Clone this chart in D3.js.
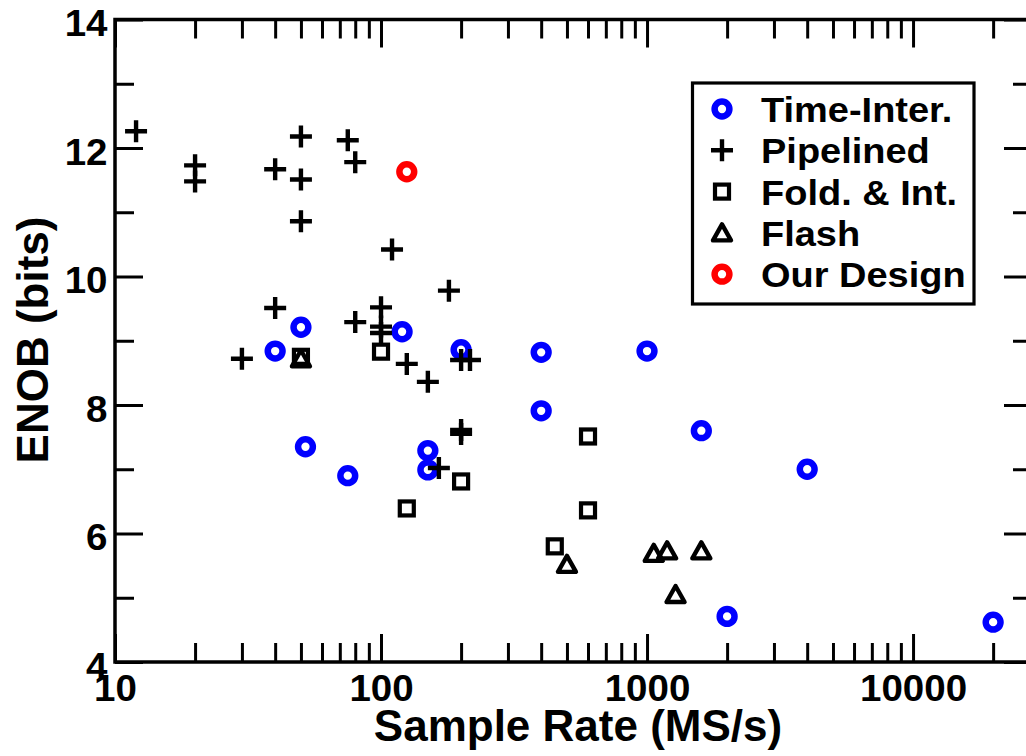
<!DOCTYPE html>
<html lang="en">
<head>
<meta charset="utf-8">
<title>ENOB vs sample rate</title>
<script src="https://d3js.org/d3.v7.min.js"></script>
<style>
  body { margin: 0; background: #fff; }
  svg { display: block; font-family: "Liberation Sans", Arial, Helvetica, sans-serif; font-weight: bold; }
</style>
</head>
<body>
<div id="chart"></div>
<script>
// data: [sample rate (MS/s), ENOB (bits)]
var timeInter = [[40, 8.84], [50, 9.21], [52, 7.35], [75, 6.90], [120, 9.14], [150, 7.29], [150, 6.99],
                 [200, 8.86], [400, 8.82], [400, 7.91], [1000, 8.84], [1600, 7.60], [2000, 4.71],
                 [4000, 7.00], [20000, 4.62]]
var pipelined = [[12, 12.26], [20, 11.73], [20, 11.48], [40, 11.67], [50, 12.18], [50, 11.51], [50, 10.86],
                 [75, 12.12], [80, 11.78], [110, 10.42], [40, 9.51], [80, 9.29], [100, 9.52], [100, 9.22],
                 [100, 9.12], [30, 8.72], [125, 8.64], [150, 8.36], [180, 9.78], [200, 8.70], [216, 8.70],
                 [200, 7.61], [200, 7.55], [165, 7.02]]
var foldInt = [[50, 8.75], [100, 8.83], [200, 6.81], [125, 6.39], [600, 7.51], [600, 6.36], [450, 5.80]]
var flash = [[50, 8.72], [500, 5.52], [1060, 5.69], [1190, 5.73], [1600, 5.73], [1280, 5.05]]
var ourDesign = [[125, 11.63]]

var legendLabels = ["Time-Inter.", "Pipelined", "Fold. & Int.", "Flash", "Our Design"]
var yMajorTicks = [4, 6, 8, 10, 12, 14]
var yMinorTicks = [5, 7, 9, 11, 13]
var xMajorTicks = [10, 100, 1000, 10000]

var w = 1026, h = 756
// plot frame (the right edge runs just past the picture)
var pLeft = 115, pRight = 1032, pTop = 19.5, pBottom = 662

var svg = d3.select("#chart").append("svg")
    .attr("width", w)
    .attr("height", h)

var xScale = d3.scaleLog().domain([10, 28000]).range([pLeft, pRight])
var yScale = d3.scaleLinear().domain([4, 14]).range([pBottom, pTop])

// minor x ticks: 2..9 in every decade
var xMinorTicks = xScale.ticks().filter(function(d){ return xMajorTicks.indexOf(d) < 0 })

function styleAxis(g){
  g.attr("font-family", null).attr("font-size", null)
  g.select(".domain").remove()
  g.selectAll(".tick line").attr("stroke", "#000").attr("stroke-width", 3)
  g.selectAll(".tick text").attr("fill", "#000").attr("font-size", 36)
    .attr("transform", "scale(1.07,1)")  // the original font runs a bit wider
}

// bottom
svg.append("g").attr("transform", "translate(0," + pBottom + ")")
  .call(d3.axisBottom(xScale).tickValues(xMajorTicks).tickSize(-28).tickPadding(13).tickFormat(d3.format("d")))
  .call(styleAxis)
svg.append("g").attr("transform", "translate(0," + pBottom + ")")
  .call(d3.axisBottom(xScale).tickValues(xMinorTicks).tickSize(-19).tickFormat(""))
  .call(styleAxis)
// top
svg.append("g").attr("transform", "translate(0," + pTop + ")")
  .call(d3.axisTop(xScale).tickValues(xMajorTicks).tickSize(-28).tickFormat(""))
  .call(styleAxis)
svg.append("g").attr("transform", "translate(0," + pTop + ")")
  .call(d3.axisTop(xScale).tickValues(xMinorTicks).tickSize(-19).tickFormat(""))
  .call(styleAxis)
// left
svg.append("g").attr("transform", "translate(" + pLeft + ",0)")
  .call(d3.axisLeft(yScale).tickValues(yMajorTicks).tickSize(-28).tickPadding(7).tickFormat(d3.format("d")))
  .call(styleAxis)
  .selectAll(".tick text").attr("dy", "0.45em")
svg.append("g").attr("transform", "translate(" + pLeft + ",0)")
  .call(d3.axisLeft(yScale).tickValues(yMinorTicks).tickSize(-19).tickFormat(""))
  .call(styleAxis)
// right
svg.append("g").attr("transform", "translate(" + pRight + ",0)")
  .call(d3.axisRight(yScale).tickValues(yMajorTicks).tickSize(-28).tickFormat(""))
  .call(styleAxis)
svg.append("g").attr("transform", "translate(" + pRight + ",0)")
  .call(d3.axisRight(yScale).tickValues(yMinorTicks).tickSize(-19).tickFormat(""))
  .call(styleAxis)

// frame
svg.append("rect")
  .attr("x", pLeft).attr("y", pTop)
  .attr("width", pRight - pLeft).attr("height", pBottom - pTop)
  .attr("fill", "none").attr("stroke", "#000").attr("stroke-width", 3.5)

// axis titles
svg.append("text")
  .attr("x", 578).attr("y", 741)
  .attr("text-anchor", "middle").attr("font-size", 44)
  .text("Sample Rate (MS/s)")
svg.append("text")
  .attr("transform", "translate(48,340) rotate(-90)")
  .attr("text-anchor", "middle").attr("font-size", 44)
  .text("ENOB (bits)")

// marker shapes
function marker(g, type, color){
  if(type == "circle"){
    g.append("circle").attr("r", 7.4).attr("fill", "none").attr("stroke", color).attr("stroke-width", 6.5)
  }
  if(type == "plus"){
    g.append("path").attr("d", "M-11,0H11M0,-11V11").attr("stroke", color).attr("stroke-width", 4.4)
  }
  if(type == "square"){
    g.append("rect").attr("x", -7).attr("y", -7).attr("width", 14).attr("height", 14)
      .attr("fill", "none").attr("stroke", color).attr("stroke-width", 4.2)
  }
  if(type == "triangle"){
    g.append("path").attr("d", "M0,-8.5L9,7.5L-9,7.5Z").attr("fill", "none")
      .attr("stroke", color).attr("stroke-width", 4.4).attr("stroke-linejoin", "round")
  }
}

var series = [
  {data: timeInter, type: "circle", color: "#0000ff"},
  {data: pipelined, type: "plus", color: "#000"},
  {data: foldInt, type: "square", color: "#000"},
  {data: flash, type: "triangle", color: "#000"},
  {data: ourDesign, type: "circle", color: "#ff0000"}
]

series.forEach(function(s){
  svg.append("g").selectAll("g")
    .data(s.data)
    .enter()
    .append("g")
    .attr("transform", function(d){ return "translate(" + xScale(d[0]) + "," + yScale(d[1]) + ")" })
    .each(function(){ marker(d3.select(this), s.type, s.color) })
})

// legend
var legend = svg.append("g")
legend.append("rect")
  .attr("x", 692.5).attr("y", 83)
  .attr("width", 281.5).attr("height", 221)
  .attr("fill", "#fff").attr("stroke", "#000").attr("stroke-width", 3.2)

series.forEach(function(s, i){
  var base = 122 + i * 41.3
  var m = legend.append("g").attr("transform", "translate(722," + (base - 13) + ")")
  marker(m, s.type, s.color)
  legend.append("text")
    .attr("transform", "translate(761," + base + ") scale(1.055,1)")
    .attr("font-size", 36)
    .text(legendLabels[i])
})
</script>
</body>
</html>
